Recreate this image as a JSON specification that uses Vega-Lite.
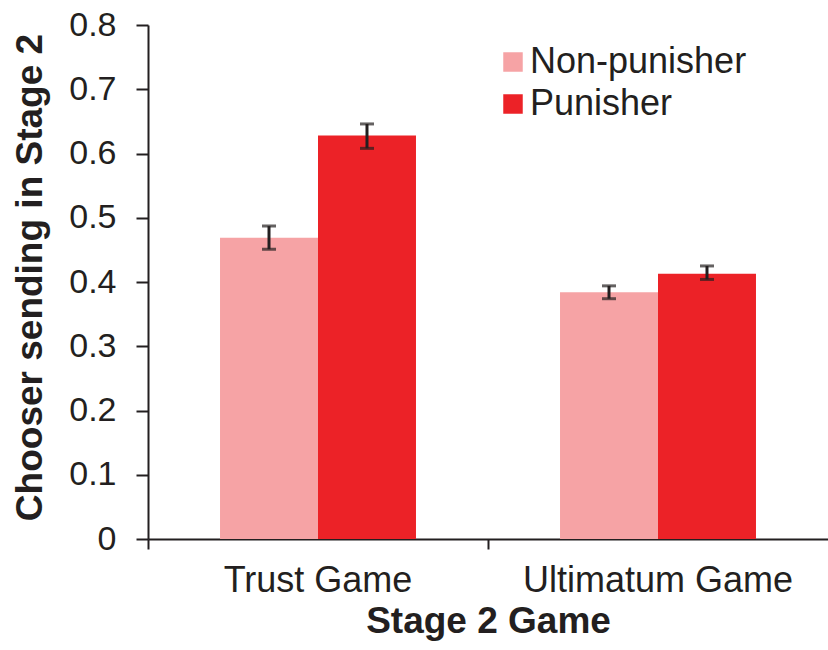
{
  "$schema": "https://vega.github.io/schema/vega-lite/v6.json",
  "width": 680,
  "height": 514,
  "autosize": "none",
  "padding": {"left": 148, "top": 25, "right": 0, "bottom": 111},
  "background": "white",
  "config": {
    "view": {"stroke": null},
    "font": "Liberation Sans",
    "axis": {"domainColor": "#231F20", "tickColor": "#231F20", "domainWidth": 2, "tickWidth": 2, "labelColor": "#231F20", "titleColor": "#231F20", "grid": false, "labelFont": "Liberation Sans", "titleFont": "Liberation Sans", "labelLimit": 400}
  },
  "data": {
    "values": [
      {"game": "Trust Game", "type": "Non-punisher", "value": 0.469, "lo": 0.451, "hi": 0.487},
      {"game": "Trust Game", "type": "Punisher", "value": 0.628, "lo": 0.608, "hi": 0.646},
      {"game": "Ultimatum Game", "type": "Non-punisher", "value": 0.384, "lo": 0.374, "hi": 0.394},
      {"game": "Ultimatum Game", "type": "Punisher", "value": 0.413, "lo": 0.404, "hi": 0.425}
    ]
  },
  "encoding": {
    "x": {
      "field": "game", "type": "nominal",
      "scale": {"paddingInner": 0, "paddingOuter": 0},
      "axis": {"title": "Stage 2 Game", "labelAngle": 0, "bandPosition": 0, "tickSize": 10, "labelFontSize": 36, "labelPadding": 14, "labelLimit": 400, "titleFontSize": 37, "titleFontWeight": "bold", "titlePadding": 5}
    },
    "xOffset": {"field": "type", "type": "nominal", "scale": {"paddingInner": 0, "paddingOuter": 0.735}}
  },
  "layer": [
    {
      "mark": {"type": "bar"},
      "encoding": {
        "y": {"field": "value", "type": "quantitative", "scale": {"domain": [0, 0.8], "nice": false}, "axis": {"title": "Chooser sending in Stage 2", "values": [0, 0.1, 0.2, 0.3, 0.4, 0.5, 0.6, 0.7, 0.8], "format": ".1~f", "tickSize": 12, "labelFontSize": 34, "labelPadding": 20, "titleFontSize": 37, "titleFontWeight": "bold", "titlePadding": 19, "titleY": 252}},
        "color": {
          "field": "type", "type": "nominal",
          "scale": {"domain": ["Non-punisher", "Punisher"], "range": ["#F6A3A5", "#EC2227"]},
          "legend": {"title": null, "orient": "none", "legendX": 347, "legendY": 19, "symbolType": "square", "symbolSize": 380, "symbolStrokeWidth": 0, "labelFontSize": 36, "labelColor": "#231F20", "labelFont": "Liberation Sans", "rowPadding": 6, "labelOffset": -1, "labelLimit": 400}
        }
      }
    },
    {
      "mark": {"type": "rule", "color": "#231F20", "strokeWidth": 3},
      "encoding": {"y": {"field": "lo", "type": "quantitative"}, "y2": {"field": "hi"}}
    },
    {
      "mark": {"type": "tick", "color": "#231F20", "thickness": 3, "size": 14, "orient": "horizontal"},
      "encoding": {"y": {"field": "lo", "type": "quantitative"}}
    },
    {
      "mark": {"type": "tick", "color": "#231F20", "thickness": 3, "size": 14, "orient": "horizontal"},
      "encoding": {"y": {"field": "hi", "type": "quantitative"}}
    }
  ]
}
